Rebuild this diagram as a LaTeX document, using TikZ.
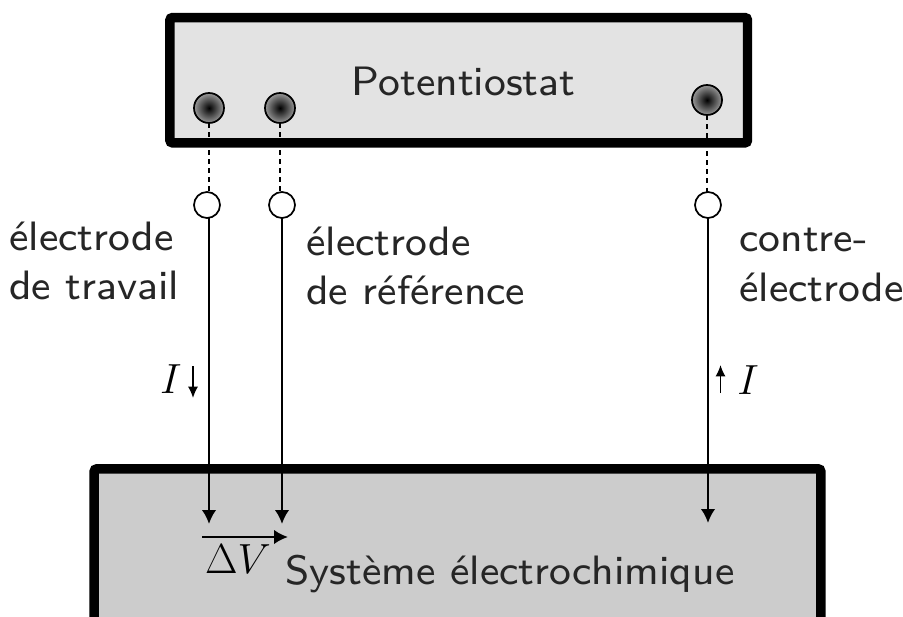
\documentclass[tikz,border=0pt]{standalone}
\usepackage{fontspec}
\usepackage{amsmath}
\setsansfont{lmsans8-regular.otf}
\usetikzlibrary{arrows.meta,positioning}
\definecolor{potfill}{gray}{.89}
\definecolor{sysfill}{gray}{.8}
\newcommand{\bigsym}[1]{\scalebox{1.27}{$#1$}}
\tikzset{
  frame/.style={draw=black,line width=7.1pt,rounded corners=2pt,minimum height=#1,inner sep=0pt,outer sep=0pt},
  lbl/.style={font=\sffamily\fontsize{30.8}{37}\selectfont,align=left,inner sep=0pt,text=black!85},
  plug/.style={circle,draw=black,line width=1.3pt,inner color=black,outer color=black!40,minimum size=22.5pt,inner sep=0pt,outer sep=0pt},
  port/.style={circle,draw=black,fill=white,line width=1.3pt,minimum size=19.5pt,inner sep=0pt,outer sep=0pt},
  wire/.style={line width=1.9pt,-{Latex[length=10.5pt,width=11pt]}},
  link/.style={line width=1.9pt,dash pattern=on 3.6pt off 3.2pt},
  cur/.style={line width=1.1pt,-{Latex[length=8.5pt,width=7.5pt]}},
  sym/.style={font=\fontsize{24.88}{30}\selectfont,inner sep=0pt}
}
\begin{document}
\begin{tikzpicture}[x=.75pt,y=-.75pt]
\path[use as bounding box] (0,0) rectangle (903,617);
\clip (0,0) rectangle (903,617);
\node[frame=94pt,fill=potfill,minimum width=433.2pt] (pot) at (458.7,80.2) {};
\node[frame=130pt,fill=sysfill,minimum width=545pt] (sys) at (457.5,555.5) {};
\node[lbl] (potlbl) at (463.5,81) {Potentiostat};
\node[lbl] (syslbl) at (510,574) {Système électrochimique};
% electrodes
\node[plug] (pw) at (209,108) {};
\node[plug] (pr) at (280,108) {};
\node[plug] (pc) at (707,100) {};
\node[port] (tw) at (207,205) {};
\node[port] (tr) at (282,205) {};
\node[port] (tc) at (708,205) {};
\draw[link] (pw) -- (pw |- tw.north);
\draw[link] (pr) -- (pr |- tr.north);
\draw[link] (pc) -- (pc |- tc.north);
\coordinate (ew) at (209,524);
\coordinate (er) at (282,524);
\coordinate (ec) at (708,523);
\draw[wire] (ew |- tw.south) -- (ew);
\draw[wire] (tr) -- (er);
\draw[wire] (tc) -- (ec);
\node[lbl,anchor=west] (lw) at (9,261) {électrode\\de travail};
\node[lbl,anchor=west] (lr) at (306,266) {électrode\\de référence};
\node[lbl,anchor=west] (lc) at (739,265) {contre-\\électrode};
% courants
\node[sym] (il) at (171,379) {\bigsym{I}};
\node[sym] (ir) at (748,380) {\bigsym{I}};
\coordinate (al) at (193,366);
\coordinate (bl) at (193,398);
\coordinate (ar) at (720.5,393);
\coordinate (br) at (720.5,365);
\draw[cur] (al) -- (bl);
\draw[cur] (ar) -- (br);
% tension
\coordinate (va) at (202,537);
\coordinate (vb) at (288,537);
\draw[wire] (va) -- (vb);
\node[sym] (dv) at (238,559) {\bigsym{\Delta V}};
\end{tikzpicture}
\end{document}
